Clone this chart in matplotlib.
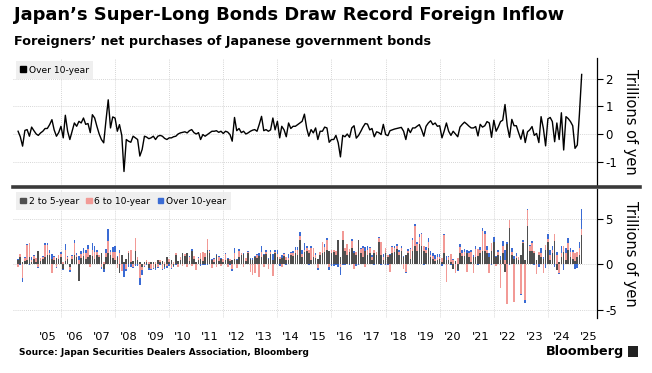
import matplotlib
matplotlib.use("Agg")
import matplotlib.pyplot as plt
from matplotlib.lines import Line2D
from matplotlib.patches import Patch, Rectangle
import numpy as np
import pandas as pd

TITLE = "Japan\u2019s Super-Long Bonds Draw Record Foreign Inflow"
SUBTITLE = "Foreigners\u2019 net purchases of Japanese government bonds"
SOURCE = "Source: Japan Securities Dealers Association, Bloomberg"

# monthly, June 2004 .. April 2025, trillions of yen
dates = pd.date_range("2004-06-01", periods=251, freq="MS")

over_10yr = [
    0.1, -0.1, -0.44, 0.13, 0.16, -0.08, 0.25, 0.12, 0.0, -0.05, 0.04, 0.1,
    0.2, 0.2, 0.34, 0.52, 0.15, -0.08, 0.05, 0.28, -0.14, 0.68, 0.1, -0.2,
    0.1, 0.4, 0.28, 0.46, 0.4, 0.58, 0.35, 0.38, 0.05, 0.7, 0.58, 0.28,
    0.0, -0.2, -0.32, 0.5, 1.24, 0.22, 0.62, 0.58, 0.1, 0.34, -0.05, -1.36,
    -0.2, -0.26, -0.3, -0.08, -0.14, -0.2, -0.8, -0.56, -0.08, -0.11, -0.17, -0.14,
    -0.08, -0.2, -0.08, -0.05, -0.08, -0.16, -0.2, -0.14, -0.14, -0.1, -0.08, 0.0,
    0.04, 0.06, 0.08, 0.04, 0.12, 0.16, 0.05, 0.0, 0.05, -0.2, -0.02, -0.08,
    -0.02, 0.04, 0.1, 0.1, 0.12, 0.06, 0.1, 0.02, 0.1, 0.07, -0.02, -0.26,
    0.6, 0.12, 0.2, 0.05, 0.1, 0.0, 0.04, 0.1, 0.14, 0.16, 0.1, 0.35,
    0.64, 0.12, 0.16, 0.1, 0.15, 0.58, 0.15, 0.46, -0.14, 0.28, 0.15, -0.1,
    0.4, 0.2, 0.28, 0.28, 0.34, 0.4, 0.46, 0.72, 0.2, -0.08, 0.16, 0.04,
    0.22, -0.2, 0.1, 0.1, 0.25, 0.22, -0.3, -0.2, -0.2, -0.05, -0.32, -0.83,
    -0.05, -0.1, 0.0, -0.12, 0.22, 0.3, -0.15, -0.05, 0.1, 0.25, 0.38, 0.36,
    0.15, 0.2, -0.1, 0.08, 0.05, -0.02, 0.35, -0.02, -0.06, 0.12, 0.15, 0.18,
    0.2, 0.22, 0.24, 0.1, -0.2, 0.2, 0.05, 0.22, 0.22, 0.28, 0.34, 0.16,
    -0.08, 0.28, 0.4, 0.48, 0.34, 0.4, 0.28, 0.3, -0.14, 0.1, 0.4, 0.1,
    -0.05, 0.1, 0.0, -0.1, 0.25, 0.35, 0.43, 0.36, 0.28, 0.22, 0.22, 0.27,
    -0.07, 0.35, 0.25, 0.3, 0.45, 0.4, -0.12, 0.5, 0.1, 0.25, 0.45, 0.5,
    1.07, 0.3, -0.12, 0.53, 0.3, 0.3, 0.05, -0.19, 0.15, -0.31, 0.08, 0.15,
    0.27, -0.05, 0.02, -0.31, 0.63, 0.2, -0.43, 0.55, 0.6, 0.45, -0.28, 0.4,
    -0.2, 0.77, -0.58, 0.63, 0.56, 0.45, 0.3, -0.52, -0.4, 0.7, 2.16,
]

two_to_5yr = [
    0.5, 0.8, 0.3, 0.4, 0.5, 0.8, 0.3, 0.6, 0.3, 1.5, 0.4, 0.6,
    0.8, 1.0, 1.0, 0.6, 0.5, 0.7, 0.6, 0.8, -0.5, 0.4, 0.6, -0.3,
    0.6, 1.0, 0.8, -1.8, 0.7, 0.9, 0.6, 0.8, 1.0, 0.9, 0.6, 1.0,
    0.8, 1.2, -0.5, 0.8, 1.2, 1.0, 0.7, 0.5, 0.8, -0.9, 1.0, 0.3,
    0.6, 1.2, 0.3, 0.4, 1.5, 0.5, 0.3, -0.3, 0.3, 0.3, -0.4, 0.2,
    0.3, -0.4, 0.5, 0.2, 0.4, -0.3, 0.8, 0.3, 0.5, -0.2, 1.0, 0.4,
    0.5, 1.2, 0.9, 1.2, 0.4, 1.5, 0.6, 0.3, 0.5, 0.6, 0.4, 0.8,
    1.6, 1.2, 0.5, 0.3, 1.0, 0.4, 0.6, 0.3, 0.5, 0.6, 0.4, 0.5,
    0.6, 0.5, 0.8, 1.0, 1.1, 0.4, 1.2, 0.6, 0.5, 0.8, 0.7, 0.9,
    0.8, 1.0, 1.1, 0.6, 1.1, 0.5, 1.2, 0.8, 0.6, 0.7, 0.9, 0.5,
    0.5, 1.0, 0.9, 1.2, 1.0, 2.7, 0.8, 1.3, 1.5, 1.2, 0.5, 0.8,
    0.7, 0.6, 1.0, 1.2, 1.3, 1.6, 1.5, 1.2, 1.3, 1.0, 2.7, 0.8,
    2.7, 1.5, 1.0, 1.4, 1.8, 1.2, 1.0, 2.7, 1.2, 0.8, 1.5, 1.0,
    1.2, 0.5, 1.2, 1.0, 2.4, 1.0, 0.5, 1.2, 0.8, 1.0, 1.2, 1.3,
    1.7, 1.0, 1.5, 0.8, 1.0, 1.2, 0.6, 1.5, 2.0, 1.5, 2.2, 2.0,
    1.5, 1.2, 1.8, 0.8, 0.6, 0.4, 0.5, 0.6, 0.3, 1.2, 0.5, 0.5,
    0.3, -0.5, 0.4, -0.6, 1.2, 0.9, 0.9, 1.2, 0.8, 0.3, 0.8, 0.8,
    0.9, 1.2, 1.5, 1.5, 1.2, 0.8, 1.5, 2.4, 0.8, 1.0, 0.5, 1.2,
    -0.8, 2.2, 4.0, 1.0, 0.6, 0.7, 0.5, 1.0, 2.3, 0.5, 4.2, 1.5,
    1.5, 1.2, 0.5, 1.0, 0.8, 0.6, 1.6, 2.5, 0.5, 1.2, 2.6, -0.6,
    0.3, 0.8, 1.4, 0.5, 1.6, 0.8, 0.6, 0.4, 0.8, 1.0, 3.2,
]

six_to_10yr = [
    -0.3, 0.3, -1.5, 0.3, 1.6, 1.5, 0.2, 0.3, 0.4, -0.3, 0.3, 0.2,
    1.3, 1.1, 0.2, -0.9, 0.3, -0.3, 0.4, 0.3, 0.3, 1.2, 0.2, -0.3,
    0.3, 1.3, 0.2, 0.5, 0.4, 0.3, 0.6, 0.9, -0.3, 0.7, 0.8, 0.3,
    0.2, -0.3, 0.2, 0.4, 1.4, 0.3, 0.6, 0.9, -0.4, 1.2, -0.7, 0.0,
    -0.5, 0.3, 1.3, -0.3, 1.4, 0.3, -1.5, -0.3, -0.2, 0.2, 0.2, -0.5,
    -0.4, 0.2, -0.3, 0.3, -0.5, 0.2, -0.2, 0.3, -0.4, 0.3, 0.2, -0.3,
    0.3, -0.2, 0.2, -0.3, 0.4, -0.2, 0.3, -0.6, 0.2, 0.6, 1.0, 0.4,
    1.2, 0.3, -0.4, 0.3, -0.3, 0.4, -0.2, 0.3, 0.6, -0.3, 0.2, -0.5,
    0.6, -0.4, 0.7, 0.2, -0.3, 0.3, 0.2, -0.8, -1.2, -0.9, 0.3, -1.4,
    0.56, -0.3, 0.3, -0.5, 0.3, -1.3, 0.2, 0.3, 0.2, -0.3, 0.2, 0.3,
    0.2, 0.2, 0.3, 0.4, 0.6, 0.4, 0.3, 0.3, 0.3, 0.4, 1.3, 1.0,
    0.3, -0.4, 0.3, 1.2, 0.65, 1.1, -0.3, 0.4, 0.3, 0.5, 0.0, -0.3,
    1.0, 0.3, 1.2, 0.3, 0.8, -0.5, 0.4, 0.0, 0.5, 0.95, -0.3, 0.6,
    0.6, 0.3, 0.4, 0.3, 0.5, 1.5, 0.3, 0.6, 0.2, -0.8, 0.65, 0.5,
    0.3, 0.4, 0.3, -0.5, -0.8, 0.3, 1.1, 1.2, 2.2, 0.7, 0.8, 1.3,
    0.5, 0.4, 0.7, 0.2, 0.3, 0.2, 0.3, 0.2, 0.4, 2.0, -1.9, 0.3,
    0.8, 0.5, -0.9, 0.7, 0.75, 0.35, 0.4, -0.8, 0.4, 1.0, -0.9, 0.9,
    0.75, 0.4, 2.2, 1.85, 0.4, -0.9, 0.8, 0.1, -0.2, 0.3, -2.6, 0.83,
    0.5, -4.4, 0.9, 0.3, -4.1, 0.25, 0.3, -3.2, 0.2, -3.9, 1.75, 0.5,
    0.8, 0.3, -1.1, 0.3, 0.4, -1.0, 0.55, 0.3, 0.5, 0.4, 0.7, 1.0,
    -0.9, 0.4, 0.6, 0.7, 0.7, 0.5, 0.7, 0.8, 0.5, 0.8, 0.65,
]

SERIES_LABELS = ["2 to 5-year", "6 to 10-year", "Over 10-year"]
SERIES_COLORS = ["#4f4f4f", "#f29a96", "#3a6bd4"]
GRID_COLOR = "#c8c8c8"

X_LEFT = pd.Timestamp("2004-03-25")
X_RIGHT = pd.Timestamp("2025-10-28")


def style_panel(ax, ylim, yticks):
    """Common Bloomberg-like look for one panel."""
    ax.set_xlim(X_LEFT, X_RIGHT)
    ax.set_ylim(*ylim)
    for side in ("top", "left", "bottom"):
        ax.spines[side].set_visible(False)
    ax.spines["right"].set_color("black")
    ax.spines["right"].set_linewidth(0.9)
    ax.yaxis.tick_right()
    ax.set_yticks(yticks)
    ax.set_yticklabels([f"{t:g}" for t in yticks])
    ax.tick_params(axis="y", length=4, width=0.8, pad=2, labelsize=8.5)
    # vertical grid every other January
    for y in range(2006, 2025, 2):
        ax.axvline(pd.Timestamp(f"{y}-01-01"), color=GRID_COLOR, lw=0.6,
                   ls=(0, (1, 1.5)), zorder=0)
    for t in yticks:
        ax.axhline(t, color=GRID_COLOR, lw=0.6, ls=(0, (1, 1.5)), zorder=0)
    ax.set_ylabel("Trillions of yen", rotation=270, fontsize=10.5, labelpad=15)
    ax.yaxis.set_label_position("right")


def stacked_bars(ax, x, series, colors, width):
    """Diverging stacked bars: positives stack up, negatives stack down."""
    pos_base = np.zeros(len(x))
    neg_base = np.zeros(len(x))
    for vals, color in zip(series, colors):
        vals = np.asarray(vals, dtype=float)
        pos = np.clip(vals, 0, None)
        neg = np.clip(vals, None, 0)
        ax.bar(x, pos, bottom=pos_base, width=width, color=color, lw=0, zorder=2)
        ax.bar(x, neg, bottom=neg_base, width=width, color=color, lw=0, zorder=2)
        pos_base += pos
        neg_base += neg


def grey_legend(ax, handles, ncol):
    leg = ax.legend(
        handles=handles, loc="upper left", bbox_to_anchor=(0.0, 1.0),
        borderaxespad=0.3, ncol=ncol, frameon=True, fontsize=6.6,
        handlelength=0.6, handleheight=0.6, handletextpad=0.3,
        columnspacing=0.8, borderpad=0.5,
    )
    leg.get_frame().set_facecolor("#ececec")
    leg.get_frame().set_edgecolor("none")
    leg.get_frame().set_boxstyle("square", pad=0)
    return leg


fig = plt.figure(figsize=(6.52, 3.73), dpi=100)
fig.patch.set_facecolor("white")

fig.text(0.022, 0.985, TITLE, fontsize=12.9, fontweight="bold", va="top", ha="left")
fig.text(0.022, 0.905, SUBTITLE, fontsize=9.2, fontweight="bold", va="top", ha="left")

ax_top = fig.add_axes([0.020, 0.504, 0.896, 0.340])
ax_bot = fig.add_axes([0.020, 0.147, 0.896, 0.345])

# top panel: over 10-year line
ax_top.plot(dates, over_10yr, color="black", lw=1.0, zorder=3)
style_panel(ax_top, (-1.85, 2.75), [-1, 0, 1, 2])
ax_top.set_xticks([])
grey_legend(ax_top, [Patch(color="black", label="Over 10-year")], 1)

# bottom panel: stacked bars by maturity
stacked_bars(ax_bot, dates, [two_to_5yr, six_to_10yr, over_10yr], SERIES_COLORS, 22)
style_panel(ax_bot, (-5.9, 8.2), [-5, 0, 5])
ax_bot.set_xticks([pd.Timestamp(f"{y}-07-01") for y in range(2005, 2026)])
ax_bot.set_xticklabels([f"'{y % 100:02d}" for y in range(2005, 2026)])
ax_bot.tick_params(axis="x", length=0, labelsize=8.2, pad=10)
grey_legend(ax_bot, [Patch(color=c, label=l) for c, l in zip(SERIES_COLORS, SERIES_LABELS)], 3)

# thick divider between the panels
fig.add_artist(Line2D([0.020, 0.982], [0.500, 0.500], color="#3a3a3a", lw=2.6))

fig.text(0.029, 0.056, SOURCE, fontsize=6.5, fontweight="bold", va="center", ha="left")
fig.text(0.957, 0.058, "Bloomberg", fontsize=9.2, fontweight="bold", va="center", ha="right")
fig.add_artist(Rectangle((0.963, 0.042), 0.016, 0.030, transform=fig.transFigure,
                         facecolor="#222222", edgecolor="none"))

fig.savefig("out.png", dpi=100, facecolor="white")
